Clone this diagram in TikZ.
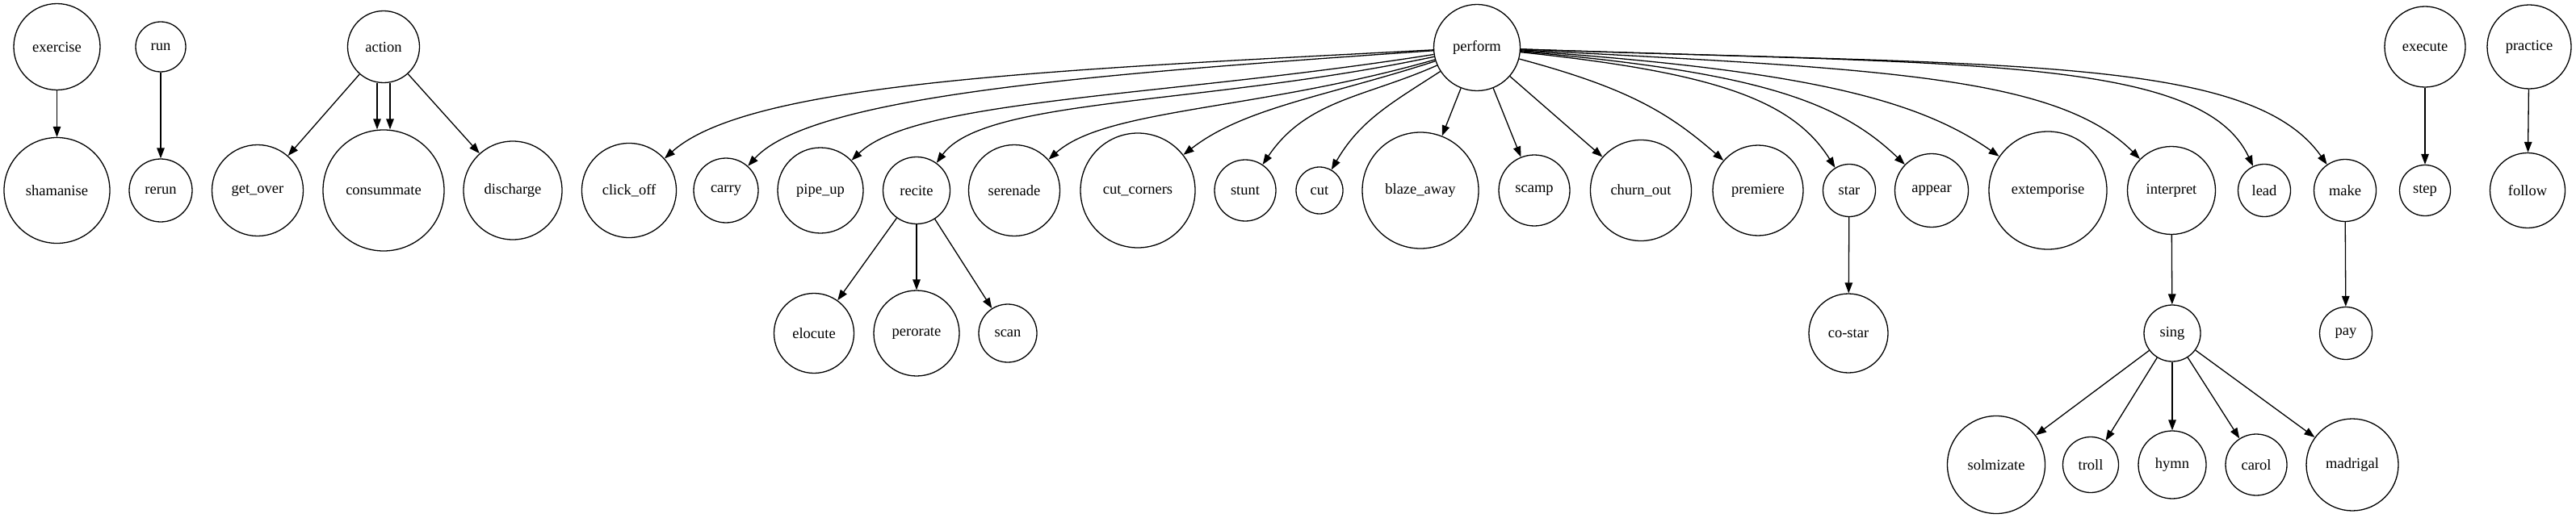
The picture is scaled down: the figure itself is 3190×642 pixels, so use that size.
\documentclass[tikz,border=0pt]{standalone}
\usepackage{fontspec}
\setmainfont{Liberation Serif}
\usetikzlibrary{arrows.meta}
\tikzset{
  n/.style={circle, draw, line width=1.3pt, inner sep=0pt, font=\fontsize{18.5}{22}\selectfont},
  e/.style={-{Triangle[length=13pt,width=9.5pt]}, line width=1.3pt},
}
\begin{document}
\begin{tikzpicture}[x=1pt,y=1pt]
\useasboundingbox (0,0) rectangle (3190,-642);
% row 1
\node[n, minimum size=107pt] (exercise) at (70.5,-58) {exercise};
\node[n, minimum size=62pt] (run) at (199,-58) {run};
\node[n, minimum size=89pt] (action) at (475,-58) {action};
\node[n, minimum size=107pt] (perform) at (1829,-59) {perform};
\node[n, minimum size=100pt] (execute) at (3003,-58) {execute};
\node[n, minimum size=104pt] (practice) at (3132,-58) {practice};
% row 2
\node[n, minimum size=131pt] (shamanise) at (70.5,-236) {shamanise};
\node[n, minimum size=78pt] (rerun) at (199,-236) {rerun};
\node[n, minimum size=113pt] (get_over) at (319,-236) {get\_over};
\node[n, minimum size=150pt] (consummate) at (475,-236) {consummate};
\node[n, minimum size=122pt] (discharge) at (635,-236) {discharge};
\node[n, minimum size=117pt] (click_off) at (779,-236) {click\_off};
\node[n, minimum size=80pt] (carry) at (899,-236) {carry};
\node[n, minimum size=106pt] (pipe_up) at (1016,-236) {pipe\_up};
\node[n, minimum size=83pt] (recite) at (1135,-236) {recite};
\node[n, minimum size=113pt] (serenade) at (1256,-236) {serenade};
\node[n, minimum size=142pt] (cut_corners) at (1409,-236) {cut\_corners};
\node[n, minimum size=76pt] (stunt) at (1542,-236) {stunt};
\node[n, minimum size=58pt] (cut) at (1634,-236) {cut};
\node[n, minimum size=144pt] (blaze_away) at (1759,-236) {blaze\_away};
\node[n, minimum size=88pt] (scamp) at (1900,-236) {scamp};
\node[n, minimum size=125pt] (churn_out) at (2032,-236) {churn\_out};
\node[n, minimum size=112pt] (premiere) at (2177,-236) {premiere};
\node[n, minimum size=65pt] (star) at (2290,-236) {star};
\node[n, minimum size=91pt] (appear) at (2392,-236) {appear};
\node[n, minimum size=146pt] (extemporise) at (2536,-236) {extemporise};
\node[n, minimum size=109pt] (interpret) at (2689,-236) {interpret};
\node[n, minimum size=65pt] (lead) at (2804,-236) {lead};
\node[n, minimum size=77pt] (make) at (2904,-236) {make};
\node[n, minimum size=63pt] (step) at (3003,-236) {step};
\node[n, minimum size=93pt] (follow) at (3130,-236) {follow};
% row 3
\node[n, minimum size=99pt] (elocute) at (1008,-413) {elocute};
\node[n, minimum size=106pt] (perorate) at (1135,-413) {perorate};
\node[n, minimum size=72pt] (scan) at (1248,-413) {scan};
\node[n, minimum size=98pt] (co-star) at (2289,-413) {co-star};
\node[n, minimum size=70pt] (sing) at (2690,-413) {sing};
\node[n, minimum size=65pt] (pay) at (2905,-413) {pay};
% row 4
\node[n, minimum size=121pt] (solmizate) at (2472,-576) {solmizate};
\node[n, minimum size=69pt] (troll) at (2589,-576) {troll};
\node[n, minimum size=84pt] (hymn) at (2690,-576) {hymn};
\node[n, minimum size=76pt] (carol) at (2794,-576) {carol};
\node[n, minimum size=114pt] (madrigal) at (2913,-576) {madrigal};
% simple edges
\draw[e] (exercise) -- (shamanise);
\draw[e] (run) -- (rerun);
\draw[e] (action) -- (get_over);
\draw[e] ([xshift=-8pt]action.south) -- ([xshift=-8pt]consummate.north);
\draw[e] ([xshift=8pt]action.south) -- ([xshift=8pt]consummate.north);
\draw[e] (action) -- (discharge);
\draw[e] (execute) -- (step);
\draw[e] (practice) -- (follow);
\draw[e] (recite) -- (elocute);
\draw[e] (recite) -- (perorate);
\draw[e] (recite) -- (scan);
\draw[e] (star) -- (co-star);
\draw[e] (interpret) -- (sing);
\draw[e] (make) -- (pay);
\draw[e] (sing) -- (solmizate);
\draw[e] (sing) -- (troll);
\draw[e] (sing) -- (hymn);
\draw[e] (sing) -- (carol);
\draw[e] (sing) -- (madrigal);
% perform fan, left
\draw[e] (perform) to[out=183,in=42,out distance=480pt,in distance=140pt] (click_off);
\draw[e] (perform) to[out=184,in=48,out distance=400pt,in distance=120pt] (carry);
\draw[e] (perform) to[out=189,in=44,out distance=340pt,in distance=110pt] (pipe_up);
\draw[e] (perform) to[out=192,in=54,out distance=290pt,in distance=100pt] (recite);
\draw[e] (perform) to[out=196,in=42,out distance=230pt,in distance=95pt] (serenade);
\draw[e] (perform) to[out=198,in=38,out distance=140pt,in distance=95pt] (cut_corners);
\draw[e] (perform) to[out=204,in=56] (stunt);
\draw[e] (perform) to[out=213,in=60] (cut);
\draw[e] (perform) -- (blaze_away);
\draw[e] (perform) -- (scamp);
\draw[e] (perform) -- (churn_out);
% perform fan, right
\draw[e] (perform) to[out=-15,in=139,out distance=140pt,in distance=90pt] (premiere);
\draw[e] (perform) to[out=-6,in=122,out distance=240pt,in distance=100pt] (star);
\draw[e] (perform) to[out=-5,in=136,out distance=290pt,in distance=115pt] (appear);
\draw[e] (perform) to[out=-4,in=145,out distance=350pt,in distance=125pt] (extemporise);
\draw[e] (perform) to[out=-3,in=135,out distance=450pt,in distance=145pt] (interpret);
\draw[e] (perform) to[out=-2,in=115,out distance=550pt,in distance=150pt] (lead);
\draw[e] (perform) to[out=-2,in=125,out distance=600pt,in distance=165pt] (make);
\end{tikzpicture}
\end{document}
